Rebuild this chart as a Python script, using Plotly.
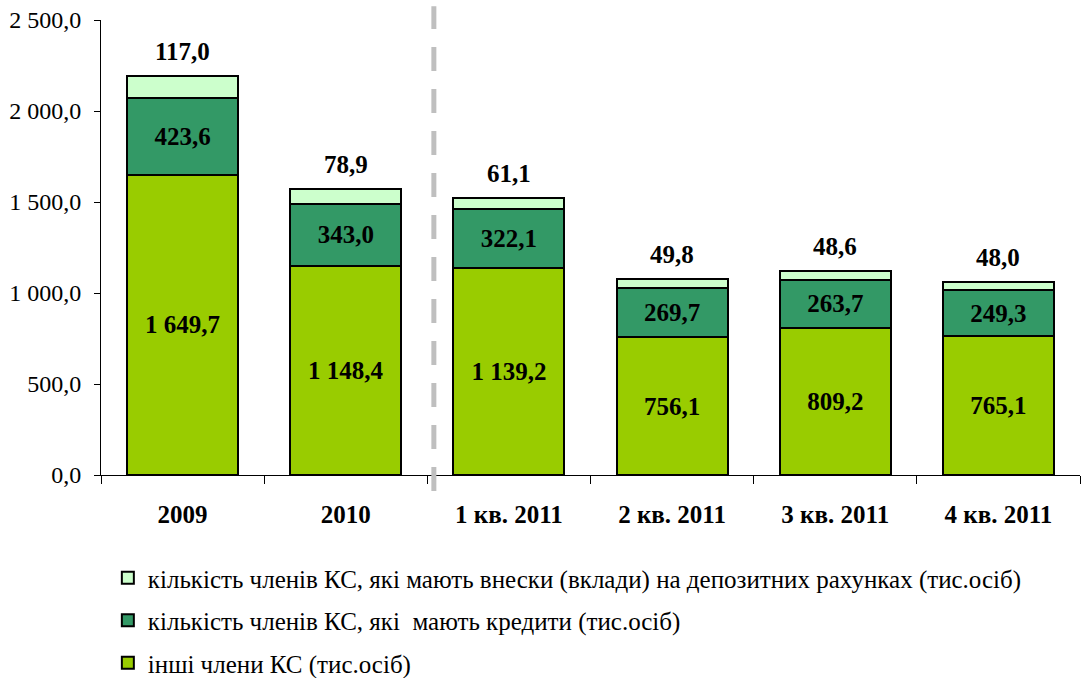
import plotly.graph_objects as go


CATEGORIES = ["2009", "2010", "1 кв. 2011", "2 кв. 2011", "3 кв. 2011", "4 кв. 2011"]

OTHERS = [1649.7, 1148.4, 1139.2, 756.1, 809.2, 765.1]
CREDITS = [423.6, 343.0, 322.1, 269.7, 263.7, 249.3]
DEPOSITS = [117.0, 78.9, 61.1, 49.8, 48.6, 48.0]

NAMES = [
    "інші члени КС (тис.осіб)",
    "кількість членів КС, які  мають кредити (тис.осіб)",
    "кількість членів КС, які мають внески (вклади) на депозитних рахунках (тис.осіб)",
]

COLORS = ["#99CC00", "#339966", "#CCFFCC"]

FONT = "Times New Roman, Liberation Serif, serif"


def fmt(v):
    s = f"{v:,.1f}"
    return s.replace(",", " ").replace(".", ",")


fig = go.Figure()

for i, (vals, name, color) in enumerate(zip([OTHERS, CREDITS, DEPOSITS], NAMES, COLORS)):
    show_text = i < 2
    fig.add_trace(
        go.Bar(
            x=CATEGORIES,
            y=vals,
            name=name,
            legendgroup=f"g{i}",
            legendrank=3 - i,
            marker=dict(color=color, line=dict(color="black", width=2)),
            text=[fmt(v) for v in vals] if show_text else None,
            textposition="inside" if show_text else "none",
            insidetextanchor="middle",
            textfont=dict(family=FONT, size=25, color="black", weight="bold"),
            hoverinfo="skip",
        )
    )

# labels above the bars for the deposit series (x given as category index)
totals = [a + b + c for a, b, c in zip(OTHERS, CREDITS, DEPOSITS)]
for idx, (tot, dep) in enumerate(zip(totals, DEPOSITS)):
    fig.add_annotation(
        x=idx,
        y=tot,
        text=f"<b>{fmt(dep)}</b>",
        showarrow=False,
        yanchor="bottom",
        yshift=9,
        font=dict(family=FONT, size=25, color="black"),
    )

# dashed separator between yearly and quarterly data
fig.add_shape(
    type="line",
    xref="x",
    yref="paper",
    x0=1.54,
    x1=1.54,
    y0=-0.035,
    y1=1.03,
    line=dict(color="#BFBFBF", width=5, dash="24px,18px"),
)

fig.update_layout(
    width=1084,
    height=678,
    barmode="stack",
    bargap=0.32,
    separators=", ",
    plot_bgcolor="white",
    paper_bgcolor="white",
    font=dict(family=FONT, size=20, color="black"),
    margin=dict(l=101, r=4, t=20, b=203, autoexpand=False),
    showlegend=True,
    legend=dict(
        x=0.007,
        y=-0.176,
        xanchor="left",
        yanchor="top",
        traceorder="grouped",
        tracegroupgap=7,
        font=dict(family=FONT, size=25, color="black"),
        itemwidth=30,
    ),
    xaxis=dict(
        type="category",
        range=[-0.5, 5.5],
        showline=True,
        linecolor="black",
        linewidth=1,
        ticks="outside",
        tickson="boundaries",
        ticklen=8,
        tickcolor="black",
        ticklabelstandoff=17,
        tickfont=dict(family=FONT, size=25, color="black", weight="bold"),
        showgrid=False,
    ),
    yaxis=dict(
        range=[0, 2500],
        dtick=500,
        tickformat=",.1f",
        showline=True,
        linecolor="black",
        linewidth=1,
        ticks="outside",
        ticklen=6,
        tickcolor="black",
        ticklabelstandoff=8,
        tickfont=dict(family=FONT, size=24, color="black"),
        showgrid=False,
        zeroline=False,
    ),
)

# drop the default page margin so the figure sits at the window corner
fig.write_html(
    "out.html",
    config={"displayModeBar": False},
    post_script="document.body.style.margin = '0';",
)
